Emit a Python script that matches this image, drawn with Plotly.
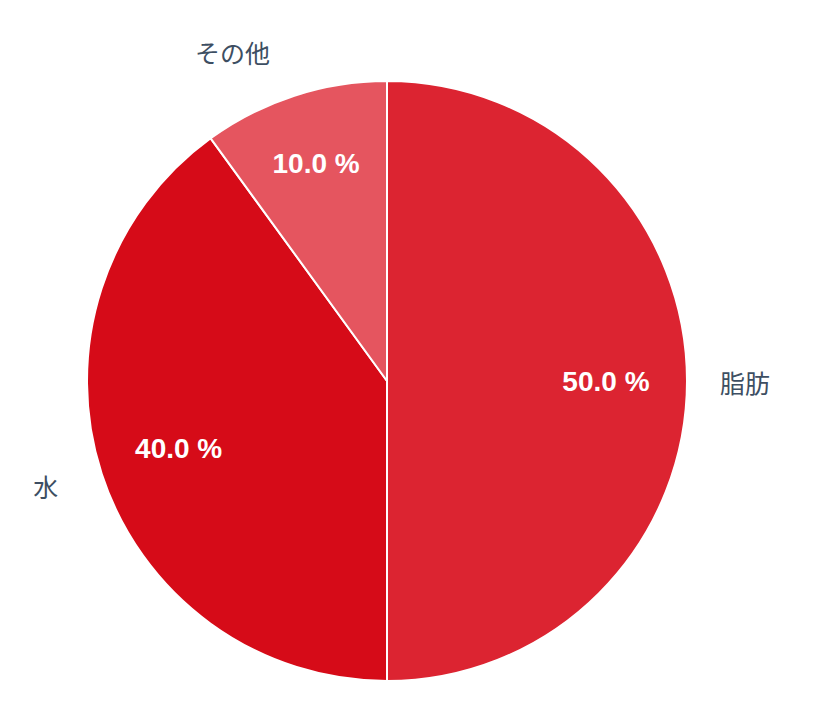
import plotly.graph_objects as go

# composition data
labels = ["脂肪", "水", "その他"]
values = [50, 40, 10]
colors = ["#dc2431", "#d60b18", "#e5555f"]

W, H = 820, 722
PAD = 8  # default body margin of the html page


def dom(left, top, right, bottom):
    # pixel box on the page -> paper domain
    return dict(x=[(left - PAD) / W, (right - PAD) / W],
                y=[1 - (bottom - PAD) / H, 1 - (top - PAD) / H])


fig = go.Figure()

# coloured slices
fig.add_trace(go.Pie(
    labels=labels,
    values=values,
    sort=False,
    direction="clockwise",
    rotation=0,
    marker=dict(colors=colors, line=dict(color="white", width=2)),
    textinfo="none",
    domain=dom(87, 81, 687, 681),
    hoverinfo="label+percent",
    showlegend=False,
))

# transparent ring on top, only there to place the percentages further out
fig.add_trace(go.Pie(
    labels=labels,
    values=values,
    sort=False,
    direction="clockwise",
    rotation=0,
    hole=0.46,
    marker=dict(colors=["rgba(0,0,0,0)"] * 3, line=dict(width=0)),
    texttemplate="%{value:.1f} %",
    textposition="inside",
    insidetextorientation="horizontal",
    insidetextfont=dict(family="Liberation Sans", size=28, color="white", weight="bold"),
    domain=dom(87, 81, 687, 681),
    hoverinfo="skip",
    showlegend=False,
))

# transparent, bigger pie just to hold the category names outside
fig.add_trace(go.Pie(
    labels=labels,
    values=values,
    sort=False,
    direction="clockwise",
    rotation=0,
    marker=dict(colors=["rgba(0,0,0,0)"] * 3, line=dict(width=0)),
    textinfo="label",
    textposition="outside",
    outsidetextfont=dict(family="Noto Sans CJK JP", size=25, color="#3d4e62"),
    domain=dom(51, 52, 711, 712),
    hoverinfo="skip",
    showlegend=False,
    automargin=False,
))

fig.update_layout(
    width=W,
    height=H,
    margin=dict(l=0, r=0, t=0, b=0),
    paper_bgcolor="white",
    plot_bgcolor="white",
)

fig.write_html("out.html")
